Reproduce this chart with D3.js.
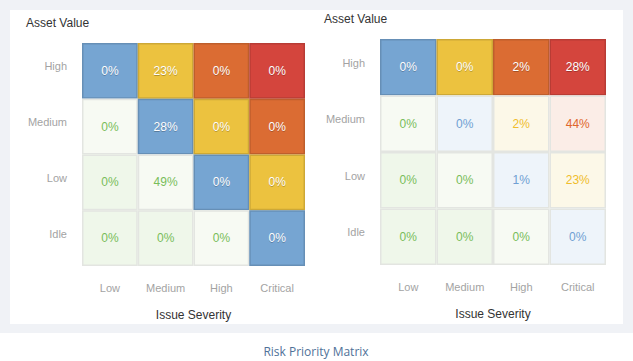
<!DOCTYPE html>
<html>
<head>
<meta charset="utf-8">
<script src="https://cdn.jsdelivr.net/npm/d3@7"></script>
<style>
  body { margin: 0; background: #fff; }
  svg { display: block; font-family: "Liberation Sans", Arial, sans-serif; }
</style>
</head>
<body>
<svg id="svg" width="633" height="361"></svg>
<script>
const severities = ["Low", "Medium", "High", "Critical"];
const assetValues = ["High", "Medium", "Low", "Idle"];

// percent per cell, rows = asset value (top to bottom), cols = severity
const leftValues = [
  [0, 23, 0, 0],
  [0, 28, 0, 0],
  [0, 49, 0, 0],
  [0, 0, 0, 0]
];
const rightValues = [
  [0, 0, 2, 28],
  [0, 0, 2, 44],
  [0, 0, 1, 23],
  [0, 0, 0, 0]
];
// which cells are drawn filled
const leftFilled = [
  [1, 1, 1, 1],
  [0, 1, 1, 1],
  [0, 0, 1, 1],
  [0, 0, 0, 1]
];
const rightFilled = [
  [1, 1, 1, 1],
  [0, 0, 0, 0],
  [0, 0, 0, 0],
  [0, 0, 0, 0]
];

// colours by risk level (severity index + asset index)
const solidColors = ["#eff7ea", "#eff7ea", "#f7faf3", "#76a5d2", "#ecc23f", "#db6c33", "#d4453d"];
const paleColors = ["#eff7ea", "#eff7ea", "#f7faf3", "#eef4fa", "#fcf8e8", "#fbede7", "#fbe9e8"];
const paleText = ["#79bd5a", "#79bd5a", "#79bd5a", "#6f9fd3", "#f0bd2c", "#e0662c", "#d4453d"];

const svg = d3.select("#svg");

svg.append("rect").attr("width", 633).attr("height", 333).attr("fill", "#f0f2f6");
svg.append("rect").attr("x", 10).attr("y", 10).attr("width", 613).attr("height", 314).attr("fill", "#fff");

svg.append("text")
  .attr("x", 316).attr("y", 356)
  .attr("text-anchor", "middle")
  .style("font-family", "'Open Sans', sans-serif")
  .style("font-size", "12px")
  .attr("fill", "#4f7198")
  .text("Risk Priority Matrix");

function drawMatrix(gx, gy, size, values, filled) {
  const g = svg.append("g");

  const x = d3.scaleBand().domain(severities).range([gx, gx + size]);
  const y = d3.scaleBand().domain(assetValues).range([gy, gy + size]);

  const cells = [];
  values.forEach((row, r) => {
    row.forEach((v, c) => {
      cells.push({
        sev: severities[c],
        asset: assetValues[r],
        value: v,
        level: c + (3 - r),
        filled: filled[r][c] === 1 && c + (3 - r) >= 3
      });
    });
  });

  const cell = g.selectAll("g.cell").data(cells).enter().append("g").attr("class", "cell");

  cell.append("rect")
    .attr("x", d => x(d.sev))
    .attr("y", d => y(d.asset))
    .attr("width", x.bandwidth())
    .attr("height", y.bandwidth())
    .attr("fill", d => d.filled ? solidColors[d.level] : paleColors[d.level]);

  // borders: dark inset on filled cells, light grey lines on pale ones
  cell.append("rect")
    .attr("x", d => x(d.sev) + 0.75)
    .attr("y", d => y(d.asset) + 0.75)
    .attr("width", x.bandwidth() - 1.5)
    .attr("height", y.bandwidth() - 1.5)
    .attr("fill", "none")
    .attr("stroke", d => d.filled ? "rgba(0,0,0,0.13)" : "#e3e5e1")
    .attr("stroke-width", 1.5);

  cell.filter(d => d.filled).append("text")
    .attr("x", d => x(d.sev) + x.bandwidth() / 2)
    .attr("y", d => y(d.asset) + y.bandwidth() / 2 + 5)
    .attr("text-anchor", "middle")
    .style("font-size", "12px")
    .attr("fill", "rgba(0,0,0,0.25)")
    .text(d => d.value + "%");

  cell.append("text")
    .attr("x", d => x(d.sev) + x.bandwidth() / 2)
    .attr("y", d => y(d.asset) + y.bandwidth() / 2 + 4)
    .attr("text-anchor", "middle")
    .style("font-size", "12px")
    .attr("fill", d => d.filled ? "#fff" : paleText[d.level])
    .text(d => d.value + "%");

  // axes
  const xAxis = d3.axisBottom(x).tickSize(0).tickPadding(0);
  g.append("g")
    .attr("transform", `translate(0, ${gy + size + 18})`)
    .call(xAxis)
    .call(a => a.select(".domain").remove())
    .selectAll("text")
    .style("font-size", "11px")
    .style("font-family", "'Liberation Sans', Arial, sans-serif")
    .style("fill", "#a3a3a3");

  const yAxis = d3.axisLeft(y).tickSize(0).tickPadding(15);
  g.append("g")
    .attr("transform", `translate(${gx}, -4)`)
    .call(yAxis)
    .call(a => a.select(".domain").remove())
    .selectAll("text")
    .style("font-size", "11px")
    .style("font-family", "'Liberation Sans', Arial, sans-serif")
    .style("fill", "#a3a3a3");

  g.append("text")
    .attr("x", gx - 56).attr("y", gy - 16)
    .style("font-size", "12px")
    .attr("fill", "#333")
    .text("Asset Value");

  g.append("text")
    .attr("x", gx + size / 2).attr("y", gy + size + 53)
    .attr("text-anchor", "middle")
    .style("font-size", "12px")
    .attr("fill", "#333")
    .text("Issue Severity");
}

drawMatrix(82, 43, 223, leftValues, leftFilled);
drawMatrix(380, 39, 226, rightValues, rightFilled);
</script>
</body>
</html>
